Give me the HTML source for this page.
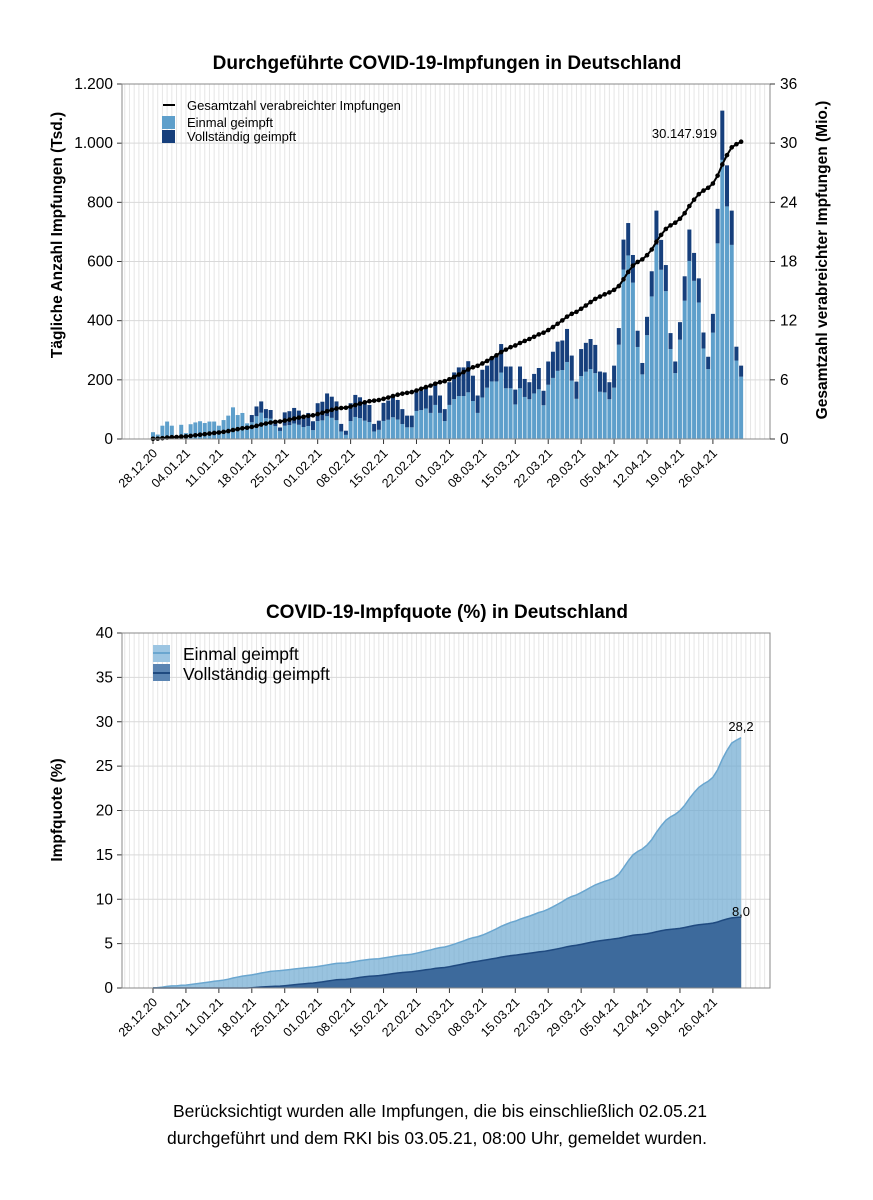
<!DOCTYPE html>
<html><head><meta charset="utf-8"><style>
body{margin:0;background:#fff;}
svg{display:block;font-family:"Liberation Sans",Arial,sans-serif;}
</style></head><body>
<svg id="s" width="873" height="1200" xmlns="http://www.w3.org/2000/svg"></svg>
<script>
var tot=[23,15,45,59,45,5,48,20,50,56,60,54,59,59,45,64,79,107,81,88,53,81,110,127,101,98,62,39,90,94,105,96,81,88,60,121,126,154,143,127,51,28,121,149,141,124,115,51,62,122,130,147,132,101,79,79,158,163,172,147,192,147,101,192,225,242,242,263,214,147,234,248,278,278,321,245,245,167,245,203,192,220,240,163,262,295,329,333,372,282,194,304,325,338,318,228,225,192,248,375,674,730,622,366,257,413,567,772,673,588,358,262,395,550,708,629,543,360,278,423,778,1110,925,772,312,248];
function fr(d){return d<21?0:d<28?0.3:d<56?0.5:d<71?0.4:d<99?0.3:0.15;}
var N=tot.length,x0=153,dx=4.705;
var o='';
function X(d){return x0+d*dx;}
function txt(x,y,t,a){return '<text x="'+x+'" y="'+y+'" '+(a||'')+'>'+t+'</text>';}
var labels=[];for(var k=0;k<18;k++){var dt=new Date(2020,11,28+7*k);labels.push(('0'+dt.getDate()).slice(-2)+'.'+('0'+(dt.getMonth()+1)).slice(-2)+'.'+String(dt.getFullYear()).slice(2));}
function frame(top,bot,yt){
 var s='<rect x="122" y="'+top+'" width="648" height="'+(bot-top)+'" fill="#fff"/>';
 for(var d=-6;d<131;d++){var x=X(d);if(x>122&&x<770)s+='<line x1="'+x+'" x2="'+x+'" y1="'+top+'" y2="'+bot+'" stroke="#e6e6e6" stroke-width="1"/>';}
 yt.forEach(function(t){s+='<line x1="122" x2="770" y1="'+t[0]+'" y2="'+t[0]+'" stroke="#d9d9d9"/>';s+='<line x1="117" x2="122" y1="'+t[0]+'" y2="'+t[0]+'" stroke="#333"/>';s+=txt(113,t[0]+5,t[1],'text-anchor="end" font-size="15.5"');});
 for(var k=0;k<18;k++){var x=X(7*k);s+='<line x1="'+x+'" x2="'+x+'" y1="'+bot+'" y2="'+(bot+5)+'" stroke="#333"/>';s+=txt(x+5,bot+15,labels[k],'text-anchor="end" font-size="12.5" transform="rotate(-45 '+(x+5)+' '+(bot+15)+')"');}
 return s;
}
// top chart
var t0=84,b0=439,py=(b0-t0)/1200;
var yt=[];for(var v=0;v<=1200;v+=200)yt.push([b0-v*py,v==0?'0':v>=1000?('1.'+String(v-1000).padStart(3,'0')):v]);
o+=frame(t0,b0,yt);
var cum=[],c=0;for(var d=0;d<N;d++){c+=tot[d];cum.push(c);}var sc=30.148/c;
for(var d=0;d<N;d++){var x=X(d)-2,h=tot[d]*py,dh=tot[d]*fr(d)*py;
 o+='<rect x="'+x+'" y="'+(b0-h+dh)+'" width="4" height="'+(h-dh)+'" fill="#5e9fcb"/>';
 if(dh>0)o+='<rect x="'+x+'" y="'+(b0-h)+'" width="4" height="'+dh+'" fill="#163f7c"/>';}
var pts=[];for(var d=0;d<N;d++)pts.push(X(d)+','+(b0-cum[d]*sc/36*(b0-t0)));
o+='<polyline points="'+pts.join(' ')+'" fill="none" stroke="#000" stroke-width="2"/>';
pts.forEach(function(p){var q=p.split(',');o+='<circle cx="'+q[0]+'" cy="'+q[1]+'" r="2.3" fill="#000"/>';});
o+='<rect x="122" y="'+t0+'" width="648" height="'+(b0-t0)+'" fill="none" stroke="#888"/>';
for(var v=0;v<=36;v+=6){var y=b0-v/36*(b0-t0);o+='<line x1="770" x2="775" y1="'+y+'" y2="'+y+'" stroke="#333"/>'+txt(780,y+5,v,'font-size="15.5"');}
o+=txt(447,69,'Durchgeführte COVID-19-Impfungen in Deutschland','text-anchor="middle" font-size="19" font-weight="bold"');
o+=txt(62,235,'Tägliche Anzahl Impfungen (Tsd.)','text-anchor="middle" font-size="15.5" font-weight="bold" transform="rotate(-90 62 235)"');
o+=txt(827,260,'Gesamtzahl verabreichter Impfungen (Mio.)','text-anchor="middle" font-size="15.5" font-weight="bold" transform="rotate(-90 827 260)"');
o+=txt(717,138,'30.147.919','text-anchor="end" font-size="13"');
o+='<line x1="163" x2="175" y1="105" y2="105" stroke="#000" stroke-width="2"/>'+txt(187,110,'Gesamtzahl verabreichter Impfungen','font-size="13"');
o+='<rect x="162" y="116" width="13" height="13" fill="#5e9fcb"/>'+txt(187,127,'Einmal geimpft','font-size="13"');
o+='<rect x="162" y="130" width="13" height="13" fill="#163f7c"/>'+txt(187,141,'Vollständig geimpft','font-size="13"');
// bottom chart
var t1=633,b1=988,qy=(b1-t1)/40;
var yt2=[];for(var v=0;v<=40;v+=5)yt2.push([b1-v*qy,v]);
o+=frame(t1,b1,yt2);
var c1=0,c2=0,A=[],B=[];for(var d=0;d<N;d++){c1+=tot[d]*(1-fr(d));c2+=tot[d]*fr(d);A.push(c1);B.push(c2);}
var sa=28.2/c1,sb=8.0/c2;
function area(arr,s,fill,st){var p=[];for(var d=0;d<N;d++)p.push(X(d)+','+(b1-arr[d]*s*qy));
 return '<polygon points="'+X(0)+','+b1+' '+p.join(' ')+' '+X(N-1)+','+b1+'" fill="'+fill+'"/><polyline points="'+p.join(' ')+'" fill="none" stroke="'+st+'" stroke-width="1.5"/>';}
o+=area(A,sa,'rgba(110,170,210,0.7)','#6aa6cf');
o+=area(B,sb,'#3d6a9c','#1f4a80');
o+='<rect x="122" y="'+t1+'" width="648" height="'+(b1-t1)+'" fill="none" stroke="#888"/>';
o+=txt(447,618,'COVID-19-Impfquote (%) in Deutschland','text-anchor="middle" font-size="19" font-weight="bold"');
o+=txt(62,810,'Impfquote (%)','text-anchor="middle" font-size="15.5" font-weight="bold" transform="rotate(-90 62 810)"');
o+=txt(741,731,'28,2','text-anchor="middle" font-size="13"');
o+=txt(741,916,'8,0','text-anchor="middle" font-size="13"');
o+='<rect x="153" y="645" width="17" height="17" fill="#9cc5e2"/><line x1="153" x2="170" y1="653" y2="653" stroke="#6aa6cf" stroke-width="2"/>'+txt(183,660,'Einmal geimpft','font-size="17.5"');
o+='<rect x="153" y="664" width="17" height="17" fill="#5a84b2"/><line x1="153" x2="170" y1="673" y2="673" stroke="#1f4a80" stroke-width="2"/>'+txt(183,680,'Vollständig geimpft','font-size="17.5"');
o+=txt(440,1117,'Berücksichtigt wurden alle Impfungen, die bis einschließlich 02.05.21','text-anchor="middle" font-size="17.5"');
o+=txt(437,1144,'durchgeführt und dem RKI bis 03.05.21, 08:00 Uhr, gemeldet wurden.','text-anchor="middle" font-size="17.5"');
document.getElementById('s').innerHTML=o;
</script>
</body></html>
